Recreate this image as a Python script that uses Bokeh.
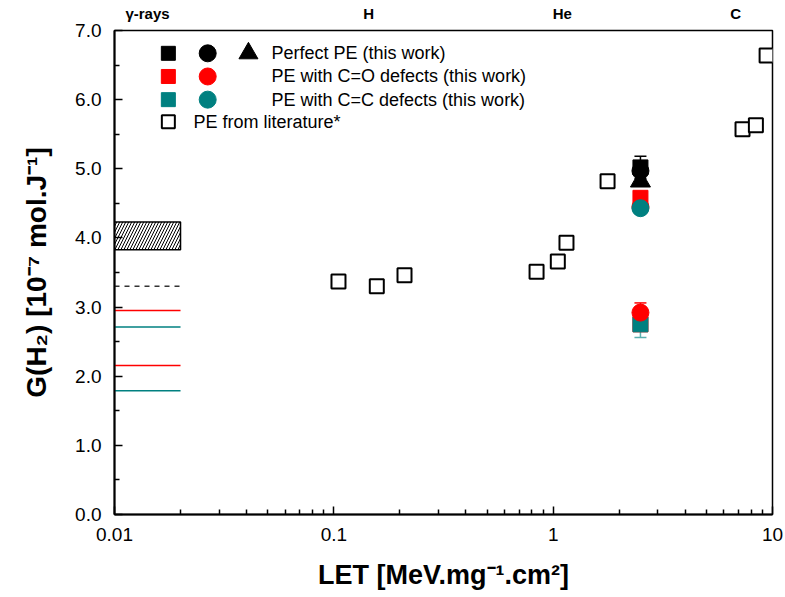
from bokeh.plotting import figure
from bokeh.models import (ColumnDataSource, Whisker, TeeHead, FixedTicker, LogAxis,
                          CustomJSTickFormatter, PrintfTickFormatter, Range1d)
from bokeh.core.properties import value
from bokeh.embed import file_html
from bokeh.resources import INLINE

# ---------------- data ----------------
# PE from literature
lit_let = [0.105, 0.157, 0.21, 0.84, 1.05, 1.15, 1.77, 7.3, 8.4, 9.4]
lit_g = [3.37, 3.30, 3.46, 3.51, 3.66, 3.93, 4.82, 5.57, 5.63, 6.64]

# this work (He ions)
this_let = 2.5
perfect_sq_g = [5.02]
perfect_sq_err = [0.16]
perfect_circ_g = [4.97]
perfect_tri_g = [4.82]
co_sq_g = [4.58, 2.75]
co_sq_err = [0.05, 0.05]
co_circ_g = [4.45, 2.92]
co_circ_err = [0.05, 0.14]
cc_sq_g = [2.75]
cc_sq_err = [0.19]
cc_circ_g = [4.43]

# gamma-ray reference values
gamma_let = [0.01, 0.02]
gamma_box = [3.83, 4.23]
gamma_lit = [3.30]
gamma_co = [2.95, 2.155]
gamma_cc = [2.71, 1.79]

# ion labels on top
ion_labels = ["γ-rays", "H", "He", "C"]
ion_let = [0.01414, 0.144, 1.10, 6.79]

x_ticks = [0.01, 0.1, 1, 10]
y_ticks = [0, 1, 2, 3, 4, 5, 6, 7]

BLACK = "#000000"
RED = "#ff0000"
TEAL = "#008080"
TEAL_ERR = "#5aafaf"

# ---------------- figure ----------------
p = figure(width=783, height=595, x_axis_type="log",
           x_range=Range1d(0.01, 10), y_range=Range1d(0, 7),
           output_backend="svg", toolbar_location=None,
           min_border_left=114, min_border_right=11,
           min_border_top=30, min_border_bottom=81)
p.grid.visible = False
p.outline_line_color = "black"
p.outline_line_width = 1.5
p.background_fill_color = None
p.border_fill_color = "white"

FONT = "Liberation Sans"

# axes
xa = p.xaxis[0]
xa.ticker = FixedTicker(ticks=x_ticks,
                        minor_ticks=[m * d for d in (0.01, 0.1, 1) for m in range(2, 10)])
xa.formatter = CustomJSTickFormatter(code="return tick.toString();")
ya = p.yaxis[0]
ya.ticker = FixedTicker(ticks=y_ticks, minor_ticks=[v + 0.5 for v in y_ticks[:-1]])
ya.formatter = PrintfTickFormatter(format="%.1f")
for ax in (xa, ya):
    ax.axis_line_width = 2
    ax.axis_line_color = "black"
    ax.major_tick_in = 8
    ax.major_tick_out = 0
    ax.minor_tick_in = 5
    ax.minor_tick_out = 0
    ax.major_tick_line_width = 1.5
    ax.minor_tick_line_width = 1.5
    ax.major_tick_line_color = "black"
    ax.minor_tick_line_color = "black"
    ax.major_label_text_font = FONT
    ax.major_label_text_font_size = "19px"
    ax.major_label_text_color = "black"
    ax.axis_label_text_font = FONT
    ax.axis_label_text_font_style = "bold"
    ax.axis_label_text_color = "black"
xa.axis_label = "LET [MeV.mg⁻¹.cm²]"
ya.axis_label = "G(H₂) [10⁻⁷ mol.J⁻¹]"
xa.axis_label_text_font_size = "27px"
ya.axis_label_text_font_size = "28px"
xa.major_label_standoff = 13
xa.axis_label_standoff = 16
ya.major_label_standoff = 13
ya.axis_label_standoff = 20

# ion names above the frame, as an extra axis without lines
top_axis = LogAxis(ticker=FixedTicker(ticks=ion_let, minor_ticks=[]),
                   formatter=CustomJSTickFormatter(
                       args=dict(pos=ion_let, names=ion_labels),
                       code="""
let best = 0, bd = Infinity;
for (let i = 0; i < pos.length; i++) {
  const d = Math.abs(Math.log10(pos[i]) - Math.log10(tick));
  if (d < bd) { bd = d; best = i; }
}
return names[best];"""),
                   axis_line_color=None, major_tick_line_color=None,
                   minor_tick_line_color=None, major_label_standoff=3,
                   major_label_text_font=FONT, major_label_text_font_style="bold",
                   major_label_text_font_size="15px", major_label_text_color="black")
p.add_layout(top_axis, "above")

# gamma-ray region
p.quad(left=[gamma_let[0]], right=[gamma_let[1]], bottom=[gamma_box[0]], top=[gamma_box[1]],
       fill_color="white", line_color="black", line_width=1.5,
       hatch_pattern="/", hatch_color="black", hatch_scale=6, hatch_weight=1)
p.segment(x0=[gamma_let[0]] * len(gamma_lit), x1=[gamma_let[1]] * len(gamma_lit),
          y0=gamma_lit, y1=gamma_lit, line_color="#333333", line_width=1.5, line_dash="5 5")
p.segment(x0=[gamma_let[0]] * len(gamma_co), x1=[gamma_let[1]] * len(gamma_co),
          y0=gamma_co, y1=gamma_co, line_color=RED, line_width=1.5)
p.segment(x0=[gamma_let[0]] * len(gamma_cc), x1=[gamma_let[1]] * len(gamma_cc),
          y0=gamma_cc, y1=gamma_cc, line_color=TEAL, line_width=1.5)

# literature
p.scatter(lit_let, lit_g, marker="square", size=14, fill_color="white",
          line_color="black", line_width=2)


def err_source(xs, ys, errs):
    return ColumnDataSource(dict(x=xs, lo=[y - e for y, e in zip(ys, errs)],
                                 hi=[y + e for y, e in zip(ys, errs)]))


def add_whisker(src, color):
    w = Whisker(base="x", lower="lo", upper="hi", source=src, line_color=color,
                line_width=1.5,
                lower_head=TeeHead(size=12, line_color=color, line_width=1.5),
                upper_head=TeeHead(size=12, line_color=color, line_width=1.5))
    p.add_layout(w)


# this work
add_whisker(err_source([this_let], perfect_sq_g, perfect_sq_err), BLACK)
p.scatter([this_let], perfect_sq_g, marker="square", size=15, color=BLACK)
p.scatter([this_let], perfect_circ_g, marker="circle", size=17, color=BLACK)
p.scatter([this_let], perfect_tri_g, marker="triangle", size=20, color=BLACK)
p.scatter([this_let] * len(co_sq_g), co_sq_g, marker="square", size=15, color=RED)
add_whisker(err_source([this_let] * len(cc_sq_g), cc_sq_g, cc_sq_err), TEAL_ERR)
p.scatter([this_let] * len(cc_sq_g), cc_sq_g, marker="square", size=15, color=TEAL)
p.scatter([this_let] * len(co_circ_g), co_circ_g, marker="circle", size=17, color=RED)
p.scatter([this_let] * len(cc_circ_g), cc_circ_g, marker="circle", size=17, color=TEAL)
add_whisker(err_source([this_let] * len(co_sq_g), co_sq_g, co_sq_err), RED)
add_whisker(err_source([this_let] * len(co_circ_g), co_circ_g, co_circ_err), RED)

# ---------------- hand-made legend ----------------
leg_rows_y = [6.67, 6.335, 6.00, 5.68]
leg_sq_x = 0.0176
leg_circ_x = 0.0266
leg_tri_x = 0.0408
leg_text_x = 0.052
leg_text_x_lit = 0.0229
row_colors = [BLACK, RED, TEAL]
for yv, col in zip(leg_rows_y[:3], row_colors):
    p.scatter([leg_sq_x], [yv], marker="square", size=14, color=col)
    p.scatter([leg_circ_x], [yv], marker="circle", size=17, color=col)
p.scatter([leg_tri_x], [leg_rows_y[0]], marker="triangle", size=19, color=BLACK)
p.scatter([leg_sq_x], [leg_rows_y[3]], marker="square", size=13, fill_color="white",
          line_color="black", line_width=2)
leg_texts = ["Perfect PE (this work)", "PE with C=O defects (this work)",
             "PE with C=C defects (this work)"]
p.text(x=[leg_text_x] * 3, y=leg_rows_y[:3], text=leg_texts,
       text_font=value(FONT), text_font_size="18px", text_baseline="middle",
       text_color="black")
p.text(x=[leg_text_x_lit], y=[leg_rows_y[3]], text=["PE from literature*"],
       text_font=value(FONT), text_font_size="18px", text_baseline="middle",
       text_color="black")

open("out.html", "w").write(file_html(p, INLINE))
